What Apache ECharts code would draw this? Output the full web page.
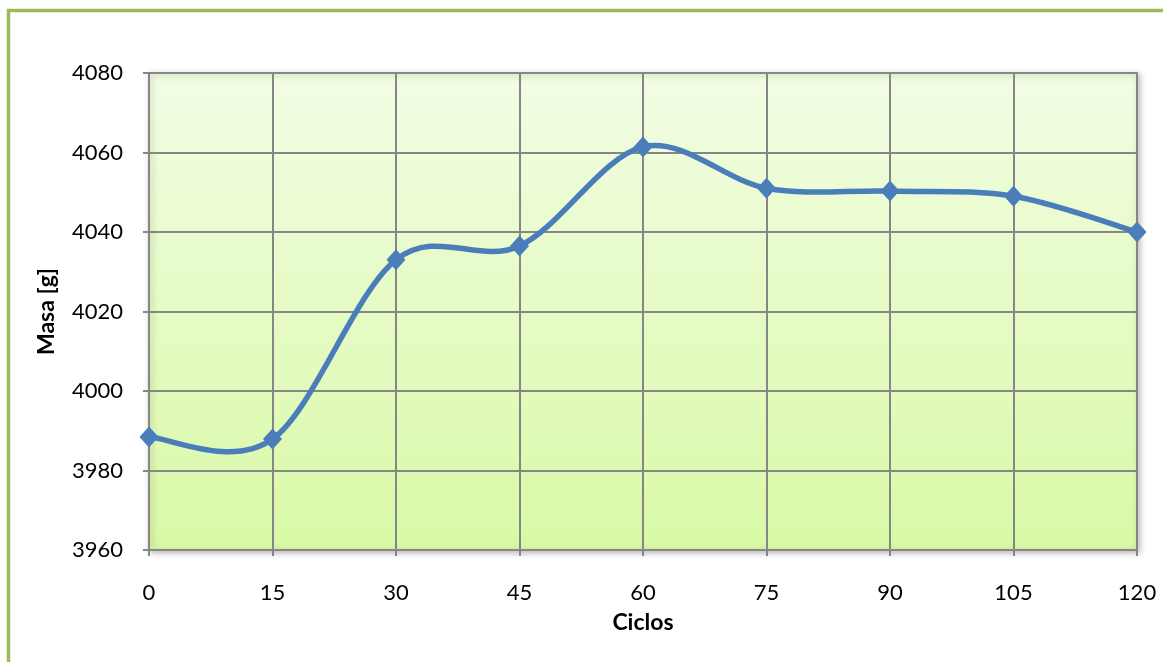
<!DOCTYPE html>
<html>
<head>
<meta charset="utf-8">
<script src="https://cdn.jsdelivr.net/npm/echarts@6/dist/echarts.min.js"></script>
<style>
  html, body { margin: 0; padding: 0; background: #fff; }
  #chart { width: 1163px; height: 662px; }
</style>
</head>
<body>
<div id="chart"></div>
<script>
// Mass of the specimen measured every 15 cycles
const ciclos = [0, 15, 30, 45, 60, 75, 90, 105, 120];
const masa = [3988.4, 3987.9, 4033.0, 4036.5, 4061.4, 4051.0, 4050.3, 4049.0, 4040.0];
const yTicks = { min: 3960, max: 4080, step: 20 };
const xTicks = { min: 0, max: 120, step: 15 };

const font = 'Lato, "Open Sans", sans-serif';
const axisGray = '#868686';
const lineBlue = '#4A7EBB';

const points = ciclos.map((c, i) => [c, masa[i]]);

// Cardinal spline segment (tension 1/6) between point i and i+1, in pixel space
function renderSegment(params, api) {
  const i = params.dataIndex;
  if (i >= points.length - 1) return null;
  const p = (k) => api.coord(points[Math.max(0, Math.min(points.length - 1, k))]);
  const p0 = p(i - 1), p1 = p(i), p2 = p(i + 1), p3 = p(i + 2);
  return {
    type: 'bezierCurve',
    shape: {
      x1: p1[0], y1: p1[1],
      x2: p2[0], y2: p2[1],
      cpx1: p1[0] + (p2[0] - p0[0]) / 6,
      cpy1: p1[1] + (p2[1] - p0[1]) / 6,
      cpx2: p2[0] - (p3[0] - p1[0]) / 6,
      cpy2: p2[1] - (p3[1] - p1[1]) / 6
    },
    style: { stroke: lineBlue, lineWidth: 5.5, fill: null, lineCap: 'round' }
  };
}

const chart = echarts.init(document.getElementById('chart'), null, { renderer: 'canvas' });
chart.setOption({
  animation: false,
  backgroundColor: '#ffffff',
  graphic: [
    {
      type: 'polyline',
      shape: { points: [[8.5, 662], [8.5, 10.5], [1163, 10.5]] },
      style: { stroke: '#9BBB59', lineWidth: 3.5, fill: null }
    }
  ],
  grid: {
    left: 149, right: 26, top: 73, bottom: 112,
    show: true,
    backgroundColor: {
      type: 'linear', x: 0, y: 0, x2: 0, y2: 1,
      colorStops: [
        { offset: 0, color: '#F2FDE4' },
        { offset: 1, color: '#D9F9A6' }
      ]
    },
    borderColor: '#9BBB59',
    borderWidth: 2,
    shadowColor: 'rgba(0,0,0,0.25)',
    shadowBlur: 6,
    shadowOffsetX: 2,
    shadowOffsetY: 2
  },
  xAxis: {
    type: 'value',
    min: xTicks.min, max: xTicks.max, interval: xTicks.step,
    name: 'Ciclos',
    nameLocation: 'middle',
    nameGap: 61,
    nameTextStyle: { fontFamily: font, fontSize: 23, fontWeight: 'bold', color: '#000' },
    axisLine: { show: true, onZero: false, lineStyle: { color: axisGray, width: 2 } },
    axisTick: { show: true, inside: false, length: 6, lineStyle: { color: axisGray, width: 2 } },
    axisLabel: { margin: 32, fontFamily: font, fontSize: 22, color: '#000' },
    splitLine: { show: true, lineStyle: { color: axisGray, width: 2 } }
  },
  yAxis: {
    type: 'value',
    min: yTicks.min, max: yTicks.max, interval: yTicks.step,
    name: 'Masa [g]',
    nameLocation: 'middle',
    nameGap: 91,
    nameRotate: 90,
    nameTextStyle: { fontFamily: font, fontSize: 23, fontWeight: 'bold', color: '#000' },
    axisLine: { show: true, lineStyle: { color: axisGray, width: 2 } },
    axisTick: { show: true, inside: false, length: 6, lineStyle: { color: axisGray, width: 2 } },
    axisLabel: { margin: 26, fontFamily: font, fontSize: 22, color: '#000', formatter: (v) => String(v) },
    splitLine: { show: true, lineStyle: { color: axisGray, width: 2 } }
  },
  series: [
    {
      type: 'custom',
      renderItem: renderSegment,
      data: points,
      clip: false,
      z: 4
    },
    {
      type: 'scatter',
      data: points,
      symbol: 'diamond',
      symbolSize: [19, 21],
      itemStyle: { color: lineBlue, opacity: 1 },
      clip: false,
      z: 5
    }
  ]
});
</script>
</body>
</html>
